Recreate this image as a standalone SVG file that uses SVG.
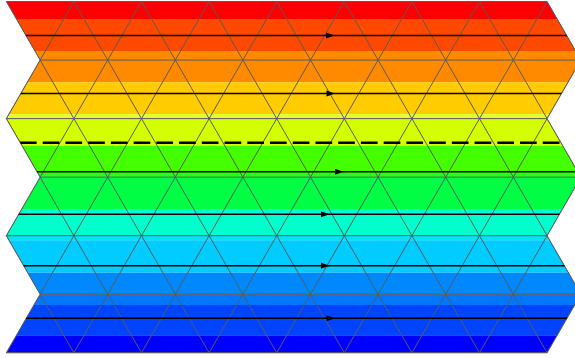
<svg xmlns="http://www.w3.org/2000/svg" xmlns:xlink="http://www.w3.org/1999/xlink" width="575" height="358" viewBox="0 0 575 358">
<style>
.grid{fill:none;stroke:#5a5a5a;stroke-width:1}
.stream{fill:none;stroke:#000;stroke-width:1.6}
.dash{fill:none;stroke:#000;stroke-width:2.6;stroke-dasharray:16.7 6.03}
.arrow{fill:#000}
</style>
<defs>
<clipPath id="dom">
<polygon points="6.3,1.5 40.1,60.05 6.3,118.6 40.1,177.15 6.3,235.7 40.1,294.25 6.3,352.8 547.1,352.8 580.9,294.25 547.1,235.7 580.9,177.15 547.1,118.6 580.9,60.05 547.1,1.5"/>
</clipPath>
<path id="ah" d="M0,0 L-8.5,-3 L-8.5,3 Z"/>
</defs>
<rect width="575" height="358" fill="#fff"/>
<g id="bands" clip-path="url(#dom)">
<rect x="0" y="0" width="600" height="19" fill="#ff0000"/>
<rect x="0" y="19" width="600" height="32" fill="#ff4800"/>
<rect x="0" y="51" width="600" height="31.3" fill="#ff8a00"/>
<rect x="0" y="82.3" width="600" height="31.7" fill="#ffcc00"/>
<rect x="0" y="114" width="600" height="4.6" fill="#e2ff30"/>
<rect x="0" y="118.6" width="600" height="27.2" fill="#d4ff00"/>
<rect x="0" y="145.8" width="600" height="27.2" fill="#44ff00"/>
<rect x="0" y="173" width="600" height="4.2" fill="#22ff22"/>
<rect x="0" y="177.2" width="600" height="31.8" fill="#00ff44"/>
<rect x="0" y="209" width="600" height="26.7" fill="#00ffcc"/>
<rect x="0" y="235.7" width="600" height="4.5" fill="#00e6f0"/>
<rect x="0" y="240.2" width="600" height="32.5" fill="#00ccff"/>
<rect x="0" y="272.7" width="600" height="21.6" fill="#0088ff"/>
<rect x="0" y="294.3" width="600" height="10.7" fill="#0077ff"/>
<rect x="0" y="305" width="600" height="30.3" fill="#0044ff"/>
<rect x="0" y="335.3" width="600" height="20" fill="#0000ff"/>
</g>
<g id="mesh" clip-path="url(#dom)">
<path class="grid" d="M0,1.5H600M0,60.05H600M0,118.6H600M0,177.15H600M0,235.7H600M0,294.25H600M0,352.8H600"/>
<path class="grid" d="M-196.5,1.5L6.3,352.8M-128.9,1.5L73.9,352.8M-61.3,1.5L141.5,352.8M6.3,1.5L209.1,352.8M73.9,1.5L276.7,352.8M141.5,1.5L344.3,352.8M209.1,1.5L411.9,352.8M276.7,1.5L479.5,352.8M344.3,1.5L547.1,352.8M411.9,1.5L614.7,352.8M479.5,1.5L682.3,352.8M547.1,1.5L749.9,352.8"/>
<path class="grid" d="M6.3,1.5L-196.5,352.8M73.9,1.5L-128.9,352.8M141.5,1.5L-61.3,352.8M209.1,1.5L6.3,352.8M276.7,1.5L73.9,352.8M344.3,1.5L141.5,352.8M411.9,1.5L209.1,352.8M479.5,1.5L276.7,352.8M547.1,1.5L344.3,352.8M614.7,1.5L411.9,352.8M682.3,1.5L479.5,352.8M749.9,1.5L547.1,352.8"/>
</g>
<polygon id="outline" class="grid" points="6.3,1.5 40.1,60.05 6.3,118.6 40.1,177.15 6.3,235.7 40.1,294.25 6.3,352.8 547.1,352.8 580.9,294.25 547.1,235.7 580.9,177.15 547.1,118.6 580.9,60.05 547.1,1.5"/>
<g id="connectors">
<g clip-path="url(#dom)">
<path class="stream" d="M0,35.5H600M0,93.5H600M0,171.7H600M0,214.3H600M0,265.7H600M0,318.3H600"/>
<path class="dash" d="M19.97,142.7H600"/>
</g>
<use href="#ah" xlink:href="#ah" class="arrow" x="334.5" y="35.5"/>
<use href="#ah" xlink:href="#ah" class="arrow" x="335" y="93.5"/>
<use href="#ah" xlink:href="#ah" class="arrow" x="343.5" y="171.7"/>
<use href="#ah" xlink:href="#ah" class="arrow" x="329.5" y="214.3"/>
<use href="#ah" xlink:href="#ah" class="arrow" x="329.5" y="265.7"/>
<use href="#ah" xlink:href="#ah" class="arrow" x="335" y="318.3"/>
</g>
</svg>
